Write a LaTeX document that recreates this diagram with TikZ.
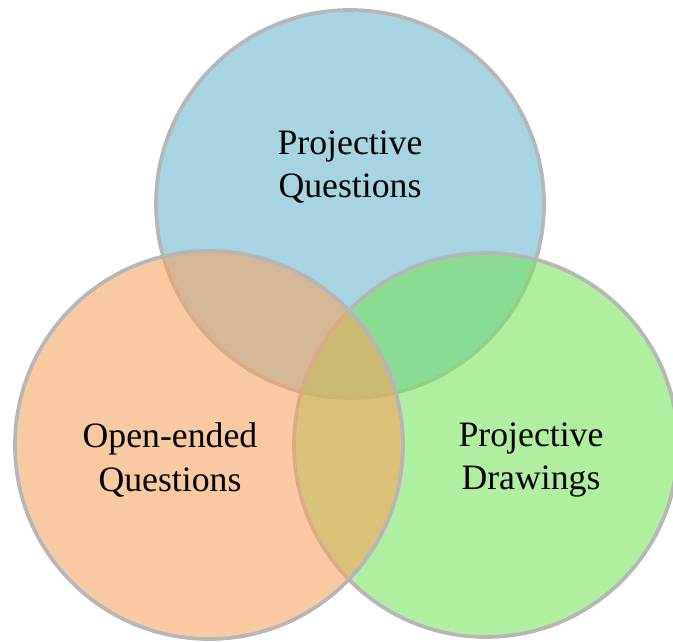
\documentclass[tikz,border=0pt]{standalone}
\usepackage{fontspec}
\setmainfont{Liberation Serif}
\definecolor{pqblue}{RGB}{107,183,207}
\definecolor{pdgreen}{RGB}{123,227,97}
\definecolor{oqorange}{RGB}{245,165,98}
\definecolor{rimgray}{RGB}{182,182,182}
\tikzset{
  venn/.style={draw=rimgray, line width=3.2pt, fill opacity=0.6},
  vlabel/.style={align=center, font=\fontsize{30.5}{37}\selectfont}
}
\begin{document}
\begin{tikzpicture}[x=0.03cm,y=0.03cm]
    \useasboundingbox (0,0) rectangle (673,641);
    \coordinate (pq) at (350,437);
    \coordinate (pd) at (486,196);
    \coordinate (oq) at (209,196);
    \draw[venn, fill=pqblue] (pq) circle[radius=194];
    \draw[venn, fill=pdgreen] (pd) circle[radius=192];
    \draw[venn, fill=oqorange] (oq) circle[radius=194];
    \node[vlabel] (pqtext) at (350,474) {Projective\\Questions};
    \node[vlabel] (oqtext) at (170,181) {Open-ended\\Questions};
    \node[vlabel] (pdtext) at (531,181) {Projective\\Drawings};
  \end{tikzpicture}
\end{document}
